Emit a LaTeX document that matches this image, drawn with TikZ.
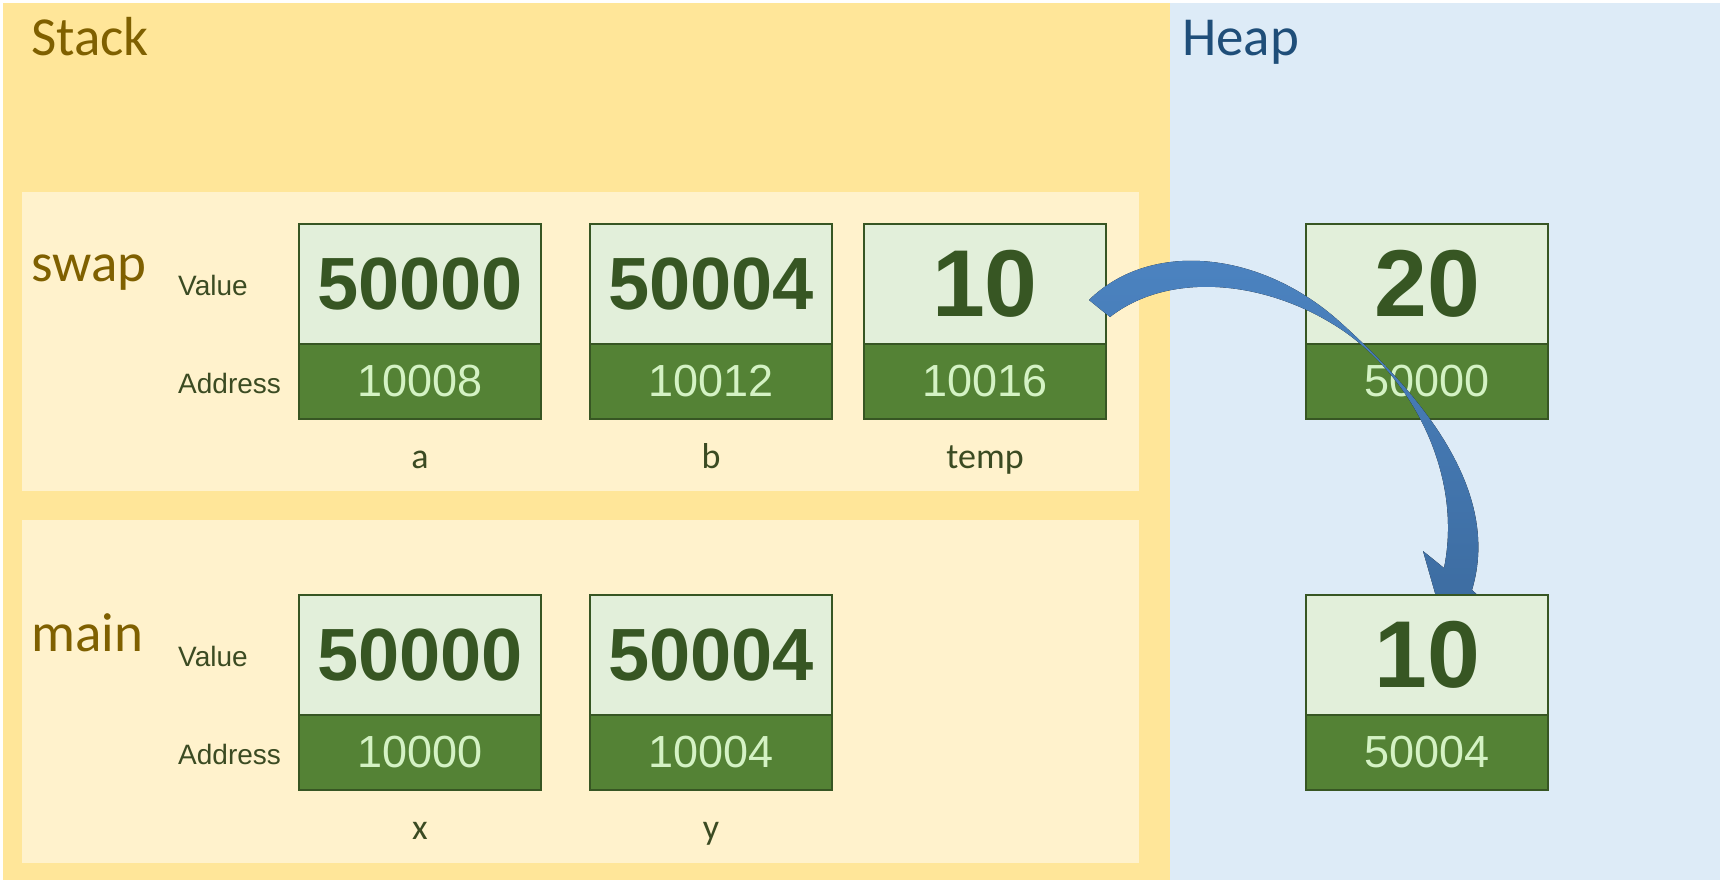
\documentclass[tikz,border=0pt]{standalone}
\usepackage{fontspec}
\setmainfont{Liberation Sans}
\newfontfamily\headfont{Carlito}
\usetikzlibrary{positioning}

\definecolor{stackbg}{HTML}{FFE699}
\definecolor{framebg}{HTML}{FFF2CC}
\definecolor{heapbg}{HTML}{DDEBF7}
\definecolor{cellbg}{HTML}{E2EFDA}
\definecolor{addrbg}{HTML}{548235}
\definecolor{cellline}{HTML}{375623}
\definecolor{addrtext}{HTML}{D4F2C4}
\definecolor{headtext}{HTML}{7F6000}
\definecolor{heaptext}{HTML}{1F4E79}
\definecolor{labeltext}{HTML}{3B4B22}
\definecolor{arrowtop}{HTML}{4C84C2}
\definecolor{arrowbot}{HTML}{3C6B9F}

\tikzset{
  headlbl/.style={inner sep=0pt, text=headtext, font=\headfont\fontsize{55}{55}\selectfont},
  rowlbl/.style={inner sep=0pt, anchor=base west, text=labeltext, font=\fontsize{28}{28}\selectfont},
  varlbl/.style={inner sep=0pt, anchor=base, text=labeltext, font=\headfont\fontsize{36}{36}\selectfont},
  valbox/.style={draw=cellline, line width=2pt, fill=cellbg, outer sep=0pt, inner sep=0pt,
    minimum width=242pt, minimum height=120pt, text=cellline},
  addrbox/.style={draw=cellline, line width=2pt, fill=addrbg, outer sep=0pt, inner sep=0pt,
    minimum width=242pt, minimum height=75pt, text=addrtext, font=\fontsize{45}{45}\selectfont}
}

\begin{document}
\begin{tikzpicture}[x=1pt,y=-1pt]
  % background areas
  \fill[white] (0,0) rectangle (1724,883);
  \fill[stackbg] (3,3) rectangle (1170,880);
  \fill[heapbg] (1170,3) rectangle (1720,880);
  \fill[framebg] (22,192) rectangle (1139,491);
  \fill[framebg] (22,520) rectangle (1139,863);

  \node[headlbl, anchor=base west] (stack) at (31,56) {Stack};
  \node[headlbl, anchor=base west, text=heaptext] (heap) at (1182,56) {Heap};
  \node[headlbl, anchor=base west] (swap) at (31,281) {swap};
  \node[headlbl, anchor=base west] (main) at (31,651) {main};

  \foreach \row/\dy in {swap/0, main/371}{
    \node[rowlbl] (\row-value) at (178,295+\dy) {Value};
    \node[rowlbl] (\row-address) at (178,393+\dy) {Address};
  }

  % stack cells
  \foreach \name/\x/\y/\val/\addr/\sz in {
    a/299/224/50000/10008/74,
    b/590/224/50004/10012/74,
    temp/864/224/10/10016/95,
    x/299/595/50000/10000/74,
    y/590/595/50004/10004/74
  }{
    \node[valbox, anchor=north west, font=\fontsize{\sz}{\sz}\selectfont\bfseries] (\name-val) at (\x,\y) {\val};
    \node[addrbox, below=0pt of \name-val] (\name-addr) {\addr};
    \node[varlbl] (\name-lbl) at ([yshift=-49pt]\name-addr.south) {\name};
  }

  % heap cells
  \node[valbox, anchor=north west, font=\fontsize{95}{95}\selectfont\bfseries] (h20-val) at (1306,224) {20};
  \node[addrbox, below=0pt of h20-val] (h20-addr) {50000};

  % curved arrow temp -> heap
  \fill[top color=arrowtop, bottom color=arrowbot]
    (1089,300) .. controls (1150,240) and (1260,250) .. (1340,322)
    .. controls (1420,394) and (1502,490) .. (1472,590)
    -- (1484,601) -- (1445,628) -- (1423,551) -- (1444,568)
    .. controls (1462,480) and (1418,384) .. (1345,332)
    .. controls (1270,280) and (1170,270) .. (1110,317) -- cycle;

  \node[valbox, anchor=north west, font=\fontsize{95}{95}\selectfont\bfseries] (h10-val) at (1306,595) {10};
  \node[addrbox, below=0pt of h10-val] (h10-addr) {50004};
\end{tikzpicture}
\end{document}
